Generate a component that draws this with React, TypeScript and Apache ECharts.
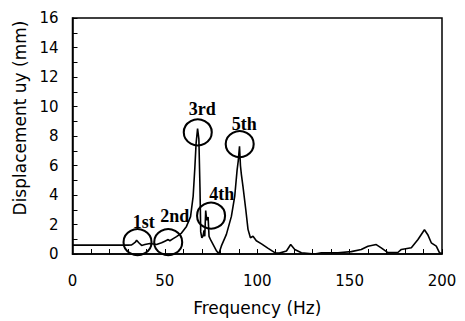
import React, { useEffect, useRef } from "react";
import * as echarts from "echarts";

const freqHz = [
  0, 30, 32, 33, 34, 34.7, 35.9, 37.4, 39.2, 41.9, 45.5, 48.2, 50, 51.8, 52.7, 54.5, 56.3, 59, 61.7,
  63.9, 65.3, 66.2, 66.9, 67.7, 68.4, 69.0, 69.4, 70.0, 70.6, 71.2, 71.6, 72.1, 72.6, 73.4, 73.9, 75,
  76.5, 78, 79.2, 80.6, 83.3, 86, 87.8, 89.1, 89.7, 90.4, 90.9, 91.4, 92.3, 93.8, 95, 96.3, 97.7, 99.5,
  102.3, 105.9, 109.5, 112, 115.8, 118.1, 120.3, 123.9, 131, 134.7, 143.7, 150.9, 156.3, 159.9, 164.4,
  167.1, 170.7, 176.1, 178, 183.4, 187, 190.5, 192.3, 194.2, 196.9, 198.6, 200,
];
const dispMm = [
  0.6, 0.6, 0.62, 0.71, 0.8, 0.93, 0.76, 0.58, 0.64, 0.71, 0.64, 0.76, 0.87, 0.98, 0.9, 1.04, 1.18, 1.42, 1.87,
  2.53, 3.9, 5.8, 7.5, 8.5, 7.8, 4.5, 1.5, 1.1, 1.2, 1.6, 1.2, 2.95, 2.3, 2.5, 1.2, 0.9,
  0.55, 0.2, 0.02, 0.55, 1.33, 2.55, 3.9, 5.7, 6.3, 7.3, 6.0, 5.4, 4.55, 3.0, 1.67, 1.1, 1.2, 0.9,
  0.69, 0.38, 0.09, 0.06, 0.2, 0.64, 0.31, 0.09, 0.0, 0.08, 0.08, 0.16, 0.31, 0.53, 0.64,
  0.42, 0.09, 0.1, 0.31, 0.42, 0.98, 1.64, 1.31, 0.76, 0.53, 0.09, 0.05,
];

const modeNames = ["1st", "2nd", "3rd", "4th", "5th"];
const circleFreq = [35.2, 51.8, 67.8, 75, 90.5];
const circleDisp = [0.8, 0.8, 8.25, 2.6, 7.45];
const labelFreq = [38.6, 55.4, 70.2, 80.8, 92.9];
const labelDisp = [2.2, 2.58, 9.8, 4.09, 8.8];

const xTicks = [0, 50, 100, 150, 200];
const yTicks = [0, 2, 4, 6, 8, 10, 12, 14, 16];

export default function App() {
  const ref = useRef<HTMLDivElement>(null);
  useEffect(() => {
    if (!ref.current) return;
    const chart = echarts.init(ref.current, null, { renderer: "svg" });
    const sans = "DejaVu Sans";
    chart.setOption({
      animation: false,
      backgroundColor: "#fff",
      grid: {
        left: 72.5,
        right: 23,
        top: 18,
        bottom: 63,
        show: true,
        borderColor: "#000",
        borderWidth: 1.5,
      },
      xAxis: {
        type: "value",
        min: xTicks[0],
        max: xTicks[xTicks.length - 1],
        interval: 50,
        name: "Frequency (Hz)",
        nameLocation: "middle",
        nameGap: 45,
        nameTextStyle: { fontFamily: sans, fontSize: 17, color: "#000" },
        axisLine: { lineStyle: { color: "#000", width: 1.5 } },
        axisTick: { inside: true, length: 5, lineStyle: { color: "#000", width: 1 } },
        minorTick: { show: true, splitNumber: 5, length: 5, lineStyle: { color: "#000", width: 1 } },
        axisLabel: { fontFamily: sans, fontSize: 15, color: "#000", margin: 19 },
        splitLine: { show: false },
      },
      yAxis: {
        type: "value",
        min: yTicks[0],
        max: yTicks[yTicks.length - 1],
        interval: 2,
        axisLine: { lineStyle: { color: "#000", width: 1.5 } },
        axisTick: { inside: true, length: 5, lineStyle: { color: "#000", width: 1 } },
        minorTick: { show: true, splitNumber: 2, length: 5, lineStyle: { color: "#000", width: 1 } },
        axisLabel: { fontFamily: sans, fontSize: 15, color: "#000", margin: 14 },
        splitLine: { show: false },
      },
      graphic: [
        {
          type: "text",
          x: 20,
          y: 118,
          rotation: Math.PI / 2,
          style: {
            text: "Displacement uy (mm)",
            fontFamily: sans,
            fontSize: 17,
            fill: "#000",
            align: "center",
            verticalAlign: "middle",
          },
        },
      ],
      series: [
        {
          type: "line",
          data: freqHz.map((f, i) => [f, dispMm[i]]),
          showSymbol: false,
          lineStyle: { color: "#000", width: 1.6 },
          z: 2,
        },
        {
          type: "scatter",
          data: circleFreq.map((f, i) => [f, circleDisp[i]]),
          symbol: "circle",
          symbolSize: [28, 26],
          itemStyle: { color: "rgba(0,0,0,0)", borderColor: "#000", borderWidth: 2, opacity: 1 },
          z: 3,
        },
        {
          type: "scatter",
          data: labelFreq.map((f, i) => ({ name: modeNames[i], value: [f, labelDisp[i]] })),
          symbolSize: 0,
          itemStyle: { opacity: 1, color: "#000" },
          label: {
            show: true,
            position: "inside",
            formatter: (p: any) => p.name,
            fontFamily: "Liberation Serif",
            fontSize: 18,
            fontWeight: "bold",
            color: "#000",
            opacity: 1,
          },
          z: 4,
        },
      ],
    });
    return () => chart.dispose();
  }, []);
  return (
    <div
      ref={ref}
      style={{ position: "fixed", left: 0, top: 0, width: 465, height: 321 }}
    />
  );
}
